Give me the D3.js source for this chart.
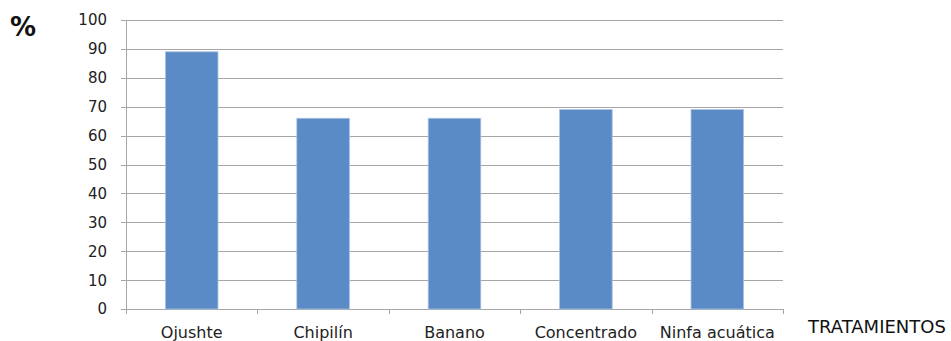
<!DOCTYPE html>
<html>
<head>
<meta charset="utf-8">
<script src="https://cdn.jsdelivr.net/npm/d3@7"></script>
<style>
  body { margin: 0; background: #fff; }
  svg { display: block; font-family: "DejaVu Sans", "Open Sans", sans-serif; }
</style>
</head>
<body>
<div id="chart"></div>
<script>
var width = 951,
    height = 341;

// data
var categories = ["Ojushte", "Chipilín", "Banano", "Concentrado", "Ninfa acuática"];
var values = [89, 66, 66, 69, 69];
var yTicks = [0, 10, 20, 30, 40, 50, 60, 70, 80, 90, 100];

var margin = { left: 126, right: 168, top: 20, bottom: 32 };

var svg = d3.select("#chart")
    .append("svg")
    .attr("width", width)
    .attr("height", height);

var x = d3.scaleBand()
    .domain(categories)
    .range([margin.left, width - margin.right])
    .paddingInner(0.6)
    .paddingOuter(0.3);

var y = d3.scaleLinear()
    .domain([0, 100])
    .range([height - margin.bottom, margin.top]);

// gridlines
svg.append("g")
    .selectAll("line")
    .data(yTicks)
    .enter()
    .append("line")
    .attr("x1", margin.left - 5)
    .attr("x2", width - margin.right)
    .attr("y1", function (d) { return Math.round(y(d)) + 0.5; })
    .attr("y2", function (d) { return Math.round(y(d)) + 0.5; })
    .attr("stroke", "#a6a6a6")
    .attr("stroke-width", 1);

// y labels
svg.append("g")
    .selectAll("text")
    .data(yTicks)
    .enter()
    .append("text")
    .attr("x", margin.left - 19)
    .attr("y", function (d) { return y(d); })
    .attr("dy", "0.36em")
    .attr("text-anchor", "end")
    .style("font-size", "15px")
    .style("fill", "#222")
    .text(function (d) { return d; });

// y axis line
svg.append("line")
    .attr("x1", margin.left + 0.5)
    .attr("x2", margin.left + 0.5)
    .attr("y1", y(100))
    .attr("y2", y(0))
    .attr("stroke", "#a6a6a6");

// bars
svg.append("g")
    .selectAll("rect")
    .data(values)
    .enter()
    .append("rect")
    .attr("x", function (d, i) { return x(categories[i]); })
    .attr("width", x.bandwidth())
    .attr("y", function (d) { return y(d); })
    .attr("height", function (d) { return y(0) - y(d); })
    .attr("fill", "#5b8bc6")
    .attr("stroke", "#a9c2e4")
    .attr("stroke-width", 0.8);

// x axis tick marks at band boundaries
var bounds = d3.range(categories.length + 1).map(function (i) {
    return margin.left + i * (width - margin.left - margin.right) / categories.length;
});
svg.append("g")
    .selectAll("line")
    .data(bounds)
    .enter()
    .append("line")
    .attr("x1", function (d) { return Math.round(d) + 0.5; })
    .attr("x2", function (d) { return Math.round(d) + 0.5; })
    .attr("y1", y(0))
    .attr("y2", y(0) + 5)
    .attr("stroke", "#a6a6a6");

// x labels
svg.append("g")
    .selectAll("text")
    .data(categories)
    .enter()
    .append("text")
    .attr("x", function (d) { return x(d) + x.bandwidth() / 2; })
    .attr("y", 338)
    .attr("text-anchor", "middle")
    .style("font-size", "16px")
    .style("fill", "#222")
    .text(function (d) { return d; });

// titles
svg.append("text")
    .attr("x", 10)
    .attr("y", 36)
    .style("font-size", "26px")
    .style("font-weight", "bold")
    .style("fill", "#111")
    .text("%");

svg.append("text")
    .attr("x", 808)
    .attr("y", 333)
    .style("font-size", "18px")
    .style("fill", "#111")
    .text("TRATAMIENTOS");
</script>
</body>
</html>
